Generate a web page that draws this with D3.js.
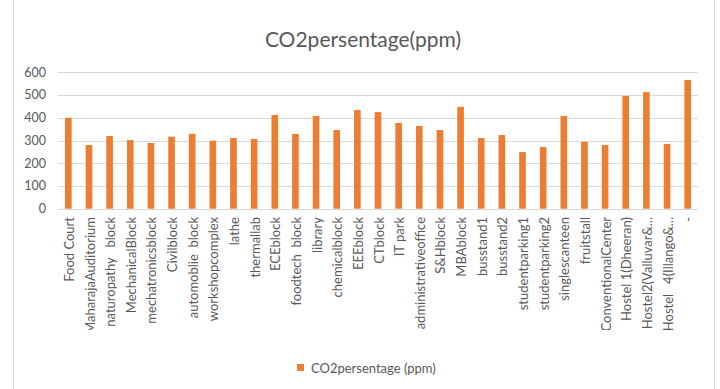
<!DOCTYPE html>
<html>
<head>
<meta charset="utf-8">
<script src="https://cdn.jsdelivr.net/npm/d3@7"></script>
<style>
  body { margin: 0; background: #fff; }
  svg { display: block; font-family: Lato, "Open Sans", sans-serif; }
</style>
</head>
<body>
<svg id="chart" width="720" height="389"></svg>
<script>
const places = [
  "Food Court", "MaharajaAuditorium", "naturopathy   block", "MechanicalBlock",
  "mechatronicsblock", "Civilblock", "automoblie  block", "workshopcomplex",
  "lathe", "thermallab", "ECEblock", "foodtech  block", "library",
  "chemicalblock", "EEEblock", "CTblock", "IT park", "administrativeoffice",
  "S&Hblock", "MBAblock", "busstand1", "busstand2", "studentparking1",
  "studentparking2", "singlescanteen", "fruitstall", "ConventionalCenter",
  "Hostel 1(Dheeran)", "Hostel2(Valluvar&...", "Hostel   4(Illango&...", "  -"
];
const co2 = [
  400, 280, 320, 302, 289, 317, 329, 299, 311, 307, 412, 329, 408, 346, 434,
  425, 377, 364, 346, 448, 311, 324, 249, 271, 408, 294, 280, 496, 513, 285, 566
];
const yTicks = [0, 100, 200, 300, 400, 500, 600];

const seriesName = "CO2persentage (ppm)";
const titleText = "CO2persentage(ppm)";

const svg = d3.select("#chart");
const textColor = "#595959";
const barColor = "#ED7D31";

// chart area frame
svg.append("rect")
  .attr("x", 13.5).attr("y", -2)
  .attr("width", 701).attr("height", 393)
  .attr("fill", "none")
  .attr("stroke", "#d9d9d9");

const plot = { left: 58, right: 698, top: 72.3, bottom: 208.7 };

const x = d3.scaleBand()
  .domain(places.map((d, i) => i))
  .range([plot.left, plot.right])
  .paddingInner(0.68)
  .paddingOuter(0.34);

const y = d3.scaleLinear()
  .domain([0, 600])
  .range([plot.bottom, plot.top]);

// gridlines
svg.append("g")
  .selectAll("line")
  .data(yTicks)
  .join("line")
  .attr("x1", plot.left).attr("x2", plot.right)
  .attr("y1", d => Math.round(y(d)) + 0.5)
  .attr("y2", d => Math.round(y(d)) + 0.5)
  .attr("stroke", "#d9d9d9");

// y labels
svg.append("g")
  .selectAll("text")
  .data(yTicks)
  .join("text")
  .attr("x", 46)
  .attr("y", d => y(d))
  .attr("dy", "0.35em")
  .attr("text-anchor", "end")
  .style("font-size", "12.5px")
  .style("fill", textColor)
  .text(d => d);

// bars
svg.append("g")
  .selectAll("rect")
  .data(co2)
  .join("rect")
  .attr("x", (d, i) => x(i))
  .attr("y", d => y(d))
  .attr("width", x.bandwidth())
  .attr("height", d => y(0) - y(d))
  .attr("fill", barColor);

// category labels, clipped like the original
svg.append("clipPath")
  .attr("id", "labelClip")
  .append("rect")
  .attr("x", 40).attr("y", 210)
  .attr("width", 659).attr("height", 120);

svg.append("g")
  .attr("clip-path", "url(#labelClip)")
  .selectAll("text")
  .data(places)
  .join("text")
  .attr("transform", (d, i) => `translate(${x(i) + x.bandwidth() / 2 + 1},217) rotate(-90)`)
  .attr("dy", "0.35em")
  .attr("text-anchor", "end")
  .style("font-size", "13px")
  .style("white-space", "pre")
  .style("fill", textColor)
  .text(d => d);

// title
svg.append("text")
  .attr("x", 363)
  .attr("y", 47)
  .attr("text-anchor", "middle")
  .style("font-size", "21px")
  .style("fill", textColor)
  .text(titleText);

// legend
const legend = svg.append("g").attr("transform", "translate(297,364)");
legend.append("rect")
  .attr("width", 7).attr("height", 7)
  .attr("fill", barColor);
legend.append("text")
  .attr("x", 14).attr("y", 4)
  .attr("dy", "0.35em")
  .style("font-size", "13px")
  .style("fill", textColor)
  .text(seriesName);
</script>
</body>
</html>
